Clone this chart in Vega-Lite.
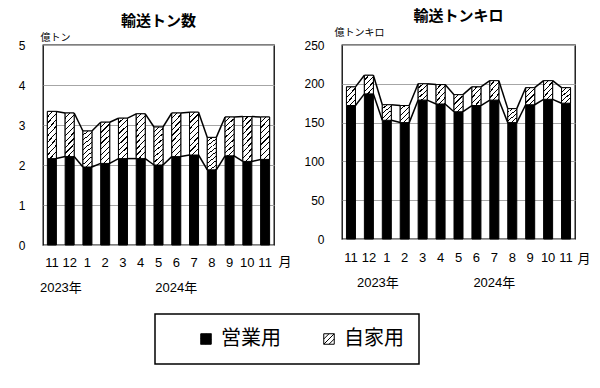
{
  "$schema": "https://vega.github.io/schema/vega-lite/v6.json",
  "background": "white",
  "padding": {"left": 17, "top": 8, "right": 5, "bottom": 5},
  "spacing": 11,
  "datasets": {
    "ton": [
      {"m": "2023-11", "t": "営業用", "v": 2.16}, {"m": "2023-11", "t": "自家用", "v": 1.18},
      {"m": "2023-12", "t": "営業用", "v": 2.21}, {"m": "2023-12", "t": "自家用", "v": 1.09},
      {"m": "2024-01", "t": "営業用", "v": 1.95}, {"m": "2024-01", "t": "自家用", "v": 0.90},
      {"m": "2024-02", "t": "営業用", "v": 2.04}, {"m": "2024-02", "t": "自家用", "v": 1.03},
      {"m": "2024-03", "t": "営業用", "v": 2.16}, {"m": "2024-03", "t": "自家用", "v": 1.01},
      {"m": "2024-04", "t": "営業用", "v": 2.16}, {"m": "2024-04", "t": "自家用", "v": 1.12},
      {"m": "2024-05", "t": "営業用", "v": 2.00}, {"m": "2024-05", "t": "自家用", "v": 0.95},
      {"m": "2024-06", "t": "営業用", "v": 2.21}, {"m": "2024-06", "t": "自家用", "v": 1.09},
      {"m": "2024-07", "t": "営業用", "v": 2.25}, {"m": "2024-07", "t": "自家用", "v": 1.07},
      {"m": "2024-08", "t": "営業用", "v": 1.88}, {"m": "2024-08", "t": "自家用", "v": 0.81},
      {"m": "2024-09", "t": "営業用", "v": 2.23}, {"m": "2024-09", "t": "自家用", "v": 0.97},
      {"m": "2024-10", "t": "営業用", "v": 2.09}, {"m": "2024-10", "t": "自家用", "v": 1.12},
      {"m": "2024-11", "t": "営業用", "v": 2.14}, {"m": "2024-11", "t": "自家用", "v": 1.06}
    ],
    "tonkm": [
      {"m": "2023-11", "t": "営業用", "v": 172}, {"m": "2023-11", "t": "自家用", "v": 24},
      {"m": "2023-12", "t": "営業用", "v": 187}, {"m": "2023-12", "t": "自家用", "v": 24},
      {"m": "2024-01", "t": "営業用", "v": 153}, {"m": "2024-01", "t": "自家用", "v": 20},
      {"m": "2024-02", "t": "営業用", "v": 150}, {"m": "2024-02", "t": "自家用", "v": 22},
      {"m": "2024-03", "t": "営業用", "v": 179}, {"m": "2024-03", "t": "自家用", "v": 21},
      {"m": "2024-04", "t": "営業用", "v": 174}, {"m": "2024-04", "t": "自家用", "v": 25},
      {"m": "2024-05", "t": "営業用", "v": 164}, {"m": "2024-05", "t": "自家用", "v": 22},
      {"m": "2024-06", "t": "営業用", "v": 172}, {"m": "2024-06", "t": "自家用", "v": 24},
      {"m": "2024-07", "t": "営業用", "v": 179}, {"m": "2024-07", "t": "自家用", "v": 25},
      {"m": "2024-08", "t": "営業用", "v": 150}, {"m": "2024-08", "t": "自家用", "v": 18},
      {"m": "2024-09", "t": "営業用", "v": 173}, {"m": "2024-09", "t": "自家用", "v": 22},
      {"m": "2024-10", "t": "営業用", "v": 180}, {"m": "2024-10", "t": "自家用", "v": 24},
      {"m": "2024-11", "t": "営業用", "v": 175}, {"m": "2024-11", "t": "自家用", "v": 20}
    ]
  },
  "hconcat": [
    {
      "width": 231,
      "height": 200,
      "title": {"text": "輸送トン数", "frame": "group", "anchor": "middle", "fontSize": 15, "fontWeight": "bold", "font": "Noto Sans CJK JP", "color": "black", "offset": 3},
      "data": {"name": "ton"},
      "transform": [
        {"stack": "v", "groupby": ["m"], "sort": [{"field": "t", "order": "ascending"}], "as": ["v0", "v1"]},
        {"window": [{"op": "lead", "field": "m", "as": "m2"}, {"op": "lead", "field": "v1", "as": "v1n"}], "groupby": ["t"], "sort": [{"field": "m", "order": "ascending"}], "frame": [null, null]}
      ],
      "resolve": {"axis": {"x": "independent"}},
      "encoding": {
        "y": {"field": "v1", "type": "quantitative", "scale": {"domain": [0, 5], "nice": false},
          "axis": {"values": [0, 1, 2, 3, 4, 5], "labelOverlap": false, "labelSeparation": 0, "labelBound": false, "domain": false, "ticks": false, "tickSize": 0, "labelPadding": 18, "labelFontSize": 12, "labelFont": "Liberation Sans", "labelColor": "black", "grid": true, "gridColor": "#a6a6a6", "gridWidth": 1,
            "title": "億トン", "titleAngle": 0, "titleX": -3, "titleY": -8, "titleAlign": "left", "titleBaseline": "middle", "titleFont": "Noto Sans CJK JP", "titleFontSize": 10, "titleFontWeight": "normal", "titleColor": "black"}}
      },
      "layer": [
        {
          "mark": {"type": "bar", "width": 9, "stroke": "black", "strokeWidth": 1},
          "encoding": {
            "x": {"field": "m", "type": "ordinal", "scale": {"paddingInner": 0, "paddingOuter": 0},
              "axis": {"orient": "bottom", "domain": false, "ticks": false, "tickSize": 0, "grid": false, "labelAngle": 0, "labelPadding": 11.5, "labelFontSize": 13, "labelFont": "Liberation Sans", "labelColor": "black", "labelOverlap": false,
                "labelExpr": "toNumber(substring(datum.value, 5)) + ''",
                "title": "月", "titleAngle": 0, "titleX": 235, "titleY": 16, "titleAlign": "left", "titleBaseline": "middle", "titleFont": "Noto Sans CJK JP", "titleFontSize": 13, "titleFontWeight": "normal", "titleColor": "black"}},
            "y2": {"field": "v0"},
            "fill": {"field": "t", "type": "nominal", "scale": {"domain": ["営業用", "自家用"], "range": ["black", "white"]},
              "legend": {"orient": "none", "legendX": 112, "legendY": 269, "direction": "horizontal", "columns": 2,
                "title": "　", "titleOrient": "left", "titleFontSize": 20, "titlePadding": 26, "titleFont": "Noto Sans CJK JP",
                "labelFont": "Noto Sans CJK JP", "labelFontSize": 20, "labelColor": "black", "labelOffset": 5,
                "labelExpr": "datum.label === '自家用' ? '自家用　　' : datum.label",
                "symbolType": "M-1,-1H1V1H-1Z M-1,0L0,-1 M-1,1L1,-1 M0,1L1,0", "symbolSize": 110, "symbolStrokeColor": "black", "symbolStrokeWidth": 1, "symbolOpacity": 1,
                "columnPadding": 38, "padding": 15, "strokeColor": "black",
                "encode": {"legend": {"update": {"strokeWidth": {"value": 1.5}}}}}}
          }
        },
        {
          "transform": [{"filter": "datum.t === '自家用'"}],
          "mark": {"type": "bar", "width": 9, "stroke": "black", "strokeWidth": 1,
            "fill": {"gradient": "linear", "x1": 0, "y1": 0, "x2": 0.249, "y2": 1.16, "stops": [
              {"offset": 0, "color": "white"}, {"offset": 0.0867, "color": "white"}, {"offset": 0.0867, "color": "black"}, {"offset": 0.1111, "color": "black"},
              {"offset": 0.1111, "color": "white"}, {"offset": 0.1978, "color": "white"}, {"offset": 0.1978, "color": "black"}, {"offset": 0.2222, "color": "black"},
              {"offset": 0.2222, "color": "white"}, {"offset": 0.3089, "color": "white"}, {"offset": 0.3089, "color": "black"}, {"offset": 0.3333, "color": "black"},
              {"offset": 0.3333, "color": "white"}, {"offset": 0.42, "color": "white"}, {"offset": 0.42, "color": "black"}, {"offset": 0.4444, "color": "black"},
              {"offset": 0.4444, "color": "white"}, {"offset": 0.5311, "color": "white"}, {"offset": 0.5311, "color": "black"}, {"offset": 0.5556, "color": "black"},
              {"offset": 0.5556, "color": "white"}, {"offset": 0.6422, "color": "white"}, {"offset": 0.6422, "color": "black"}, {"offset": 0.6667, "color": "black"},
              {"offset": 0.6667, "color": "white"}, {"offset": 0.7533, "color": "white"}, {"offset": 0.7533, "color": "black"}, {"offset": 0.7778, "color": "black"},
              {"offset": 0.7778, "color": "white"}, {"offset": 0.8644, "color": "white"}, {"offset": 0.8644, "color": "black"}, {"offset": 0.8889, "color": "black"},
              {"offset": 0.8889, "color": "white"}, {"offset": 0.9756, "color": "white"}, {"offset": 0.9756, "color": "black"}, {"offset": 1, "color": "black"}
            ]}},
          "encoding": {
            "x": {"field": "m", "type": "ordinal", "axis": null},
            "y2": {"field": "v0"}
          }
        },
        {
          "transform": [{"filter": "datum.m2 != null"}],
          "mark": {"type": "rule", "xOffset": 4.5, "x2Offset": -4.5, "color": "black", "strokeWidth": 1.5},
          "encoding": {
            "x": {"field": "m", "type": "ordinal",
              "axis": {"orient": "bottom", "domain": false, "ticks": false, "tickSize": 0, "grid": false, "labelAngle": 0, "labelPadding": 36, "labelFontSize": 13, "labelFont": "Liberation Sans, Noto Sans CJK JP", "labelColor": "black", "labelOverlap": false, "title": null,
                "labelExpr": "datum.value === '2023-11' ? '2023年' : datum.value === '2024-06' ? '2024年' : ''",
                "labelOffset": {"condition": {"test": "datum.value === '2023-11'", "value": 9}, "value": 0}}},
            "x2": {"field": "m2"},
            "y2": {"field": "v1n"},
            "detail": {"field": "t"}
          }
        }
      ]
    },
    {
      "width": 233,
      "height": 194,
      "title": {"text": "輸送トンキロ", "frame": "group", "anchor": "middle", "fontSize": 15, "fontWeight": "bold", "font": "Noto Sans CJK JP", "color": "black", "offset": 3},
      "data": {"name": "tonkm"},
      "transform": [
        {"stack": "v", "groupby": ["m"], "sort": [{"field": "t", "order": "ascending"}], "as": ["v0", "v1"]},
        {"window": [{"op": "lead", "field": "m", "as": "m2"}, {"op": "lead", "field": "v1", "as": "v1n"}], "groupby": ["t"], "sort": [{"field": "m", "order": "ascending"}], "frame": [null, null]}
      ],
      "resolve": {"axis": {"x": "independent"}},
      "encoding": {
        "y": {"field": "v1", "type": "quantitative", "scale": {"domain": [0, 250], "nice": false},
          "axis": {"values": [0, 50, 100, 150, 200, 250], "labelOverlap": false, "labelSeparation": 0, "labelBound": false, "domain": false, "ticks": false, "tickSize": 0, "labelPadding": 18, "labelFontSize": 12, "labelFont": "Liberation Sans", "labelColor": "black", "grid": true, "gridColor": "#a6a6a6", "gridWidth": 1,
            "title": "億トンキロ", "titleAngle": 0, "titleX": -8, "titleY": -13, "titleAlign": "left", "titleBaseline": "middle", "titleFont": "Noto Sans CJK JP", "titleFontSize": 10, "titleFontWeight": "normal", "titleColor": "black"}}
      },
      "layer": [
        {
          "mark": {"type": "bar", "width": 9, "stroke": "black", "strokeWidth": 1},
          "encoding": {
            "x": {"field": "m", "type": "ordinal", "scale": {"paddingInner": 0, "paddingOuter": 0},
              "axis": {"orient": "bottom", "domain": false, "ticks": false, "tickSize": 0, "grid": false, "labelAngle": 0, "labelPadding": 12, "labelFontSize": 13, "labelFont": "Liberation Sans", "labelColor": "black", "labelOverlap": false,
                "labelExpr": "toNumber(substring(datum.value, 5)) + ''",
                "title": "月", "titleAngle": 0, "titleX": 235, "titleY": 19, "titleAlign": "left", "titleBaseline": "middle", "titleFont": "Noto Sans CJK JP", "titleFontSize": 13, "titleFontWeight": "normal", "titleColor": "black"}},
            "y2": {"field": "v0"},
            "fill": {"field": "t", "type": "nominal", "scale": {"domain": ["営業用", "自家用"], "range": ["black", "white"]}}
          }
        },
        {
          "transform": [{"filter": "datum.t === '自家用'"}],
          "mark": {"type": "bar", "width": 9, "stroke": "black", "strokeWidth": 1,
            "fill": {"gradient": "linear", "x1": 0, "y1": 0, "x2": 0.63, "y2": 1.2, "stops": [
              {"offset": 0, "color": "white"}, {"offset": 0.156, "color": "white"}, {"offset": 0.156, "color": "black"}, {"offset": 0.2, "color": "black"},
              {"offset": 0.2, "color": "white"}, {"offset": 0.356, "color": "white"}, {"offset": 0.356, "color": "black"}, {"offset": 0.4, "color": "black"},
              {"offset": 0.4, "color": "white"}, {"offset": 0.556, "color": "white"}, {"offset": 0.556, "color": "black"}, {"offset": 0.6, "color": "black"},
              {"offset": 0.6, "color": "white"}, {"offset": 0.756, "color": "white"}, {"offset": 0.756, "color": "black"}, {"offset": 0.8, "color": "black"},
              {"offset": 0.8, "color": "white"}, {"offset": 0.956, "color": "white"}, {"offset": 0.956, "color": "black"}, {"offset": 1, "color": "black"}
            ]}},
          "encoding": {
            "x": {"field": "m", "type": "ordinal", "axis": null},
            "y2": {"field": "v0"}
          }
        },
        {
          "transform": [{"filter": "datum.m2 != null"}],
          "mark": {"type": "rule", "xOffset": 4.5, "x2Offset": -4.5, "color": "black", "strokeWidth": 1.5},
          "encoding": {
            "x": {"field": "m", "type": "ordinal",
              "axis": {"orient": "bottom", "domain": false, "ticks": false, "tickSize": 0, "grid": false, "labelAngle": 0, "labelPadding": 37, "labelFontSize": 13, "labelFont": "Liberation Sans, Noto Sans CJK JP", "labelColor": "black", "labelOverlap": false, "title": null,
                "labelExpr": "datum.value === '2023-12' ? '2023年' : datum.value === '2024-07' ? '2024年' : ''",
                "labelOffset": {"condition": {"test": "datum.value === '2023-12'", "value": 9}, "value": 0}}},
            "x2": {"field": "m2"},
            "y2": {"field": "v1n"},
            "detail": {"field": "t"}
          }
        }
      ]
    }
  ],
  "config": {
    "view": {"stroke": "black", "strokeWidth": 1.3},
    "font": "Liberation Sans, Noto Sans CJK JP",
    "axisY": {"labelOverlap": false},
    "axisQuantitative": {"labelOverlap": false}
  }
}
